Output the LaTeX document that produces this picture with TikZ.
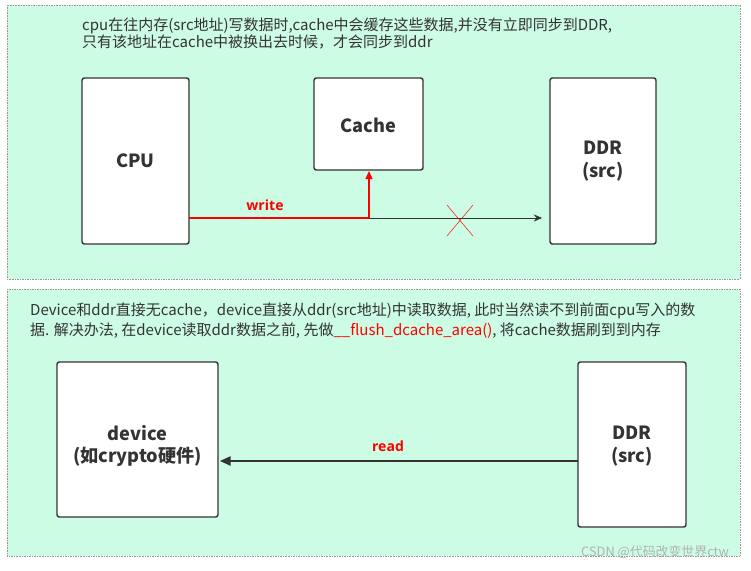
\documentclass[tikz,border=0pt]{standalone}
\usepackage{fontspec}
\setmainfont{Open Sans}
\newfontfamily\cjk{Noto Sans CJK SC}
\usetikzlibrary{arrows.meta}
\definecolor{mint}{HTML}{CCFCE4}
\definecolor{txt}{HTML}{333333}
\begin{document}
\begin{tikzpicture}[x=0.03cm,y=-0.03cm,
 panel/.style={draw=gray!80,densely dotted,fill=mint},
 box/.style={draw=txt,line width=1.2pt,fill=white,rounded corners=2pt},
 lbl/.style={font=\cjk\bfseries\fontsize{15.5}{19}\selectfont,text=txt,align=center},
 note/.style={font=\cjk\fontsize{12.8}{14.5}\selectfont,text=txt,anchor=north west,align=left,inner sep=0pt},
 redlbl/.style={font=\bfseries\fontsize{12}{14}\selectfont,text=red}]
\useasboundingbox (0,0) rectangle (751,571);
\fill[white] (0,0) rectangle (751,571);
\draw[panel] (7,5) rectangle (740,279);
\draw[panel] (7,289) rectangle (740,556);
\node[note] (t1) at (82,18) {cpu在往内存(src地址)写数据时,cache中会缓存这些数据,并没有立即同步到DDR,\\只有该地址在cache中被换出去时候，才会同步到ddr};
\draw[box] (82,78) rectangle (189,244);
\node[lbl] (cpu) at (135.5,161) {CPU};
\draw[box] (314,78) rectangle (423,170);
\node[lbl] (cache) at (368.5,125) {Cache};
\draw[box] (550,78) rectangle (656,244);
\node[lbl] (ddr1) at (603,161) {DDR\\(src)};
\coordinate (w0) at (189,218);
\coordinate (w1) at (369,218);
\coordinate (w2) at (369,171);
\coordinate (d1) at (542,218);
\draw[red,line width=1.5pt,-{Triangle[length=7pt,width=6pt]}] (w0) -- (w1) -- (w2);
\draw[txt,-{Stealth[length=7pt,width=6pt]}] (w1) -- (d1);
\node[redlbl] (wr) at (265,205) {write};
\draw[red] (447,205) -- (473,236) (473,205) -- (447,236);
\node[note,font=\cjk\fontsize{12.8}{17}\selectfont] (t2) at (30,303) {Device和ddr直接无cache，device直接从ddr(src地址)中读取数据, 此时当然读不到前面cpu写入的数\\据. 解决办法, 在device读取ddr数据之前, 先做\textcolor{red}{\_\_flush\_dcache\_area()}, 将cache数据刷到到内存};
\draw[box] (57,362) rectangle (218,517);
\node[lbl] (dev) at (137.5,446) {device\\(如crypto硬件)};
\draw[box] (578,362) rectangle (686,527);
\node[lbl] (ddr2) at (632,446) {DDR\\(src)};
\coordinate (r0) at (578,461);
\coordinate (r1) at (220,461);
\draw[txt,line width=1pt,-{Triangle[length=9pt,width=8pt]}] (r0) -- (r1);
\node[redlbl] (rd) at (388,446) {read};
\node[font=\cjk\fontsize{11}{13}\selectfont,text=gray!60] (wm) at (655,552) {CSDN @代码改变世界ctw};
\end{tikzpicture}
\end{document}
